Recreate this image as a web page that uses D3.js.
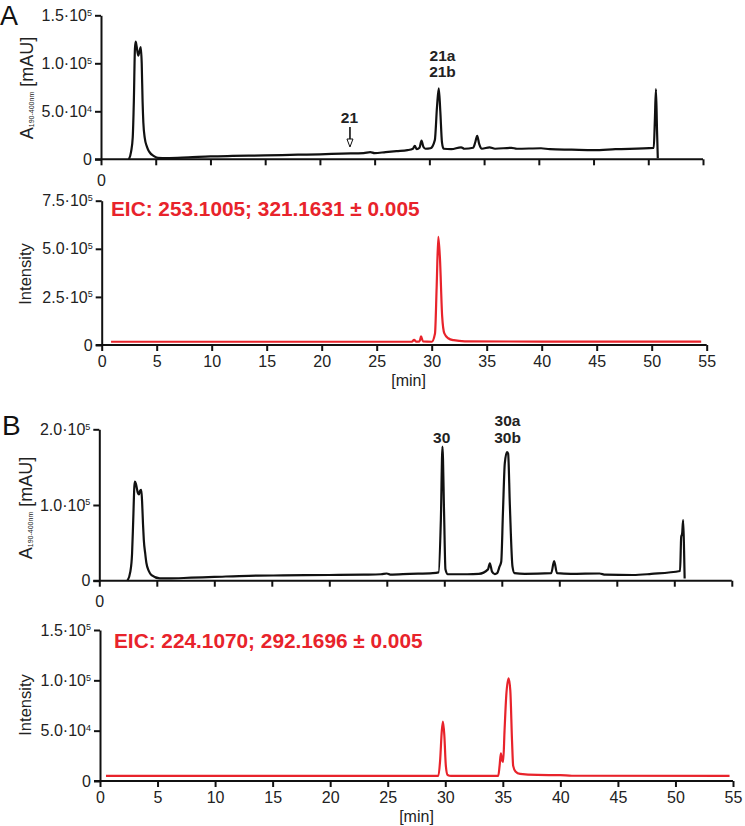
<!DOCTYPE html>
<html><head><meta charset="utf-8">
<script src="https://cdn.jsdelivr.net/npm/d3@7"></script>
<style>
body{margin:0;background:#fff;}
text{font-family:"Liberation Sans",Arial,Helvetica,sans-serif;}
</style></head>
<body><svg id="c" width="745" height="826"></svg>
<script>
// ---------- DATA ----------
const xTicks = [0,5,10,15,20,25,30,35,40,45,50,55];

// Panel A – UV trace (A190-400nm)
const uvA_t = [2.55,2.75,2.9,3.0,3.1,3.17,3.25,3.4,3.55,3.63,3.72,3.8,3.87,4.0,4.2,4.4,4.8,5.2,6,8,10,12,15,18,20,22,24,24.6,25,26,27,28,28.5,28.67,28.85,29.1,29.28,29.45,29.64,30.1,30.5,30.7,30.86,31.0,31.15,31.3,32,32.9,33.2,34.0,34.2,34.37,34.55,34.8,35.5,36,37.5,38,40.2,41,43,45,47,50.5,50.6,50.7,50.8,50.87];
const uvA_v = [0,8000,23000,60000,115000,122500,118000,108000,114000,117000,100000,60000,38000,22000,13000,8000,3500,1500,1200,2000,3000,3500,4000,4800,5200,6000,6500,7500,6500,7500,8500,9500,11000,14000,10500,12000,19500,13000,11000,11500,20000,55000,74000,50000,18000,11000,10500,12500,11000,12000,18000,24500,16000,11000,12500,11000,12000,11000,11500,10500,10000,9500,10500,12000,40000,73000,30000,1000];

// Panel A – EIC trace
const eicA_t = [0.85,10,20,27,28.2,28.4,28.6,28.9,29.03,29.2,30.0,30.3,30.45,30.6,30.75,30.95,31.15,31.5,32,33,40,54.5];
const eicA_v = [17000,17000,17000,17000,17000,27000,17000,19000,45000,19000,17000,60000,300000,562000,450000,150000,60000,35000,25000,19000,18000,18000];

// Panel B – UV trace
const uvB_t = [2.45,2.7,2.85,2.95,3.05,3.1,3.2,3.35,3.45,3.55,3.65,3.72,3.8,3.87,4.0,4.1,4.3,4.54,5.26,6,8,10,13,16,20,23,24.5,25,25.3,27,29.0,29.5,29.7,29.84,29.98,30.1,30.3,32,33.0,33.8,33.96,34.15,34.4,34.6,34.8,34.95,35.1,35.26,35.45,35.55,35.7,35.93,36.1,37,39.3,39.55,39.8,41,43.5,44,46.4,48,50.5,50.6,50.68,50.77,50.85,50.9];
const uvB_v = [0,12000,36000,80000,125000,131000,127000,116000,114000,119000,120000,105000,75000,54000,35000,23000,13000,7500,3200,3000,4000,5000,6500,7000,7500,8000,8500,9500,8000,9000,10000,11000,80000,177000,90000,15000,8500,8500,9000,15000,23000,12000,8800,10000,18500,25000,90000,155000,170000,168000,100000,18500,10000,9000,10000,26000,10000,9000,9500,8000,7500,9000,12800,58000,62000,80000,40000,3000];

// Panel B – EIC trace
const eicB_t = [0.52,29.4,29.55,29.7,29.8,29.92,30.05,30.2,30.5,34.6,34.72,34.83,34.95,35.03,35.15,35.3,35.5,35.65,35.8,35.9,36.1,36.5,38,40,41,54.7];
const eicB_v = [5000,5000,20000,50000,59000,45000,15000,6000,5000,5000,15000,27500,20000,19000,50000,85000,102000,90000,40000,15000,9500,7000,6000,5800,5200,5000];

// y tick values and labels (mantissa, exponent)
const yTicksAtop = [0,50000,100000,150000];
const yLabelsAtop = [["0",""],["5.0·10","4"],["1.0·10","5"],["1.5·10","5"]];
const yTicksAbot = [0,250000,500000,750000];
const yLabelsAbot = [["0",""],["2.5·10","5"],["5.0·10","5"],["7.5·10","5"]];
const yTicksBtop = [0,100000,200000];
const yLabelsBtop = [["0",""],["1.0·10","5"],["2.0·10","5"]];
const yTicksBbot = [0,50000,100000,150000];
const yLabelsBbot = [["0",""],["5.0·10","4"],["1.0·10","5"],["1.5·10","5"]];

const eicTextA = "EIC: 253.1005; 321.1631 ± 0.005";
const eicTextB = "EIC: 224.1070; 292.1696 ± 0.005";
const RED = "#e8232b";

// ---------- DRAW ----------
const svg = d3.select("#c");

function yLabel(g, parts){
  g.each(function(d,i){
    const t = d3.select(this).text(null);
    t.append("tspan").text(parts[i][0]);
    if(parts[i][1]) t.append("tspan").attr("font-size","9px").attr("dy","-0.6em").text(parts[i][1]);
  });
}

function panel(o){
  const x = d3.scaleLinear().domain([0,55]).range([o.x0,o.x1]);
  const y = d3.scaleLinear().domain([0,o.ymax]).range([o.y0,o.y1]);
  const g = svg.append("g");
  const xa = g.append("g").attr("transform",`translate(0,${o.y0})`)
    .call(d3.axisBottom(x).tickValues(xTicks).tickSize(6).tickSizeOuter(0)
      .tickPadding(o.showX?5:9)
      .tickFormat(d => (o.showX || d===0) ? String(d) : ""));
  const ya = g.append("g").attr("transform",`translate(${o.x0},0)`)
    .call(d3.axisLeft(y).tickValues(o.yt).tickSize(6).tickSizeOuter(0).tickPadding(3));
  [xa,ya].forEach(a=>{
    a.select(".domain").attr("stroke","#111").attr("stroke-width",2);
    a.selectAll(".tick line").attr("stroke","#111").attr("stroke-width",2);
    a.selectAll(".tick text").attr("font-size","16px").attr("fill","#222");
  });
  xa.select(".domain").attr("d",`M${o.x0-6},0H${o.x1}`);
  ya.selectAll(".tick text").call(yLabel,o.yl);
  const line = d3.line().x(d=>x(d[0])).y(d=>y(d[1])).curve(d3.curveMonotoneX);
  g.append("path").datum(d3.zip(o.t,o.v)).attr("d",line)
    .attr("fill","none").attr("stroke",o.color).attr("stroke-width",2.2).attr("stroke-linejoin","round");
  return {x,y,g};
}

const pAt = panel({x0:101,x1:703,y0:159.3,y1:15.3,ymax:150000,yt:yTicksAtop,yl:yLabelsAtop,t:uvA_t,v:uvA_v,color:"#111",showX:false});
const pAb = panel({x0:101.7,x1:706.7,y0:345,y1:200.7,ymax:750000,yt:yTicksAbot,yl:yLabelsAbot,t:eicA_t,v:eicA_v,color:RED,showX:true});
const pBt = panel({x0:99.3,x1:731.8,y0:580.7,y1:429.3,ymax:200000,yt:yTicksBtop,yl:yLabelsBtop,t:uvB_t,v:uvB_v,color:"#111",showX:false});
const pBb = panel({x0:100,x1:733,y0:781,y1:630,ymax:150000,yt:yTicksBbot,yl:yLabelsBbot,t:eicB_t,v:eicB_v,color:RED,showX:true});

svg.append("text").attr("x",pAb.x(27.9)).attr("y",386).attr("text-anchor","middle").attr("font-size","16px").attr("fill","#222").text("[min]");
svg.append("text").attr("x",pBb.x(27.5)).attr("y",822).attr("text-anchor","middle").attr("font-size","16px").attr("fill","#222").text("[min]");

svg.append("text").attr("x",0).attr("y",25).attr("font-size","27px").attr("fill","#111").text("A");
svg.append("text").attr("x",2).attr("y",435).attr("font-size","28px").attr("fill","#111").text("B");

function uvTitle(cx,cy){
  const t = svg.append("text").attr("transform",`translate(${cx},${cy}) rotate(-90)`)
    .attr("text-anchor","middle").attr("font-size","18px").attr("fill","#222");
  t.append("tspan").text("A");
  t.append("tspan").attr("font-size","7px").attr("dy","1px").text("190-400nm");
  t.append("tspan").attr("dy","-1px").text(" [mAU]");
}
uvTitle(33,88);
uvTitle(32,508);
function intTitle(cx,cy){
  svg.append("text").attr("transform",`translate(${cx},${cy}) rotate(-90)`)
    .attr("text-anchor","middle").attr("font-size","16.5px").attr("fill","#222").text("Intensity");
}
intTitle(31,274);
intTitle(31,705);

svg.append("text").attr("x",111).attr("y",216).attr("font-size","20.8px").attr("font-weight","bold").attr("fill",RED).text(eicTextA);
svg.append("text").attr("x",114).attr("y",648).attr("font-size","20.8px").attr("font-weight","bold").attr("fill",RED).text(eicTextB);

function lab(p,t,yy,s){
  svg.append("text").attr("x",p.x(t)).attr("y",yy).attr("text-anchor","middle")
    .attr("font-size","15.5px").attr("font-weight","bold").attr("fill","#222").text(s);
}
lab(pAt,31.2,61,"21a");
lab(pAt,31.2,77,"21b");
lab(pAt,22.7,123,"21");
lab(pBt,29.77,443,"30");
lab(pBt,35.5,426,"30a");
lab(pBt,35.5,443,"30b");
const ax = pAt.x(22.7)+0.5;
svg.append("line").attr("x1",ax).attr("x2",ax).attr("y1",127).attr("y2",139).attr("stroke","#111").attr("stroke-width",1.6);
svg.append("path").attr("d",`M${ax-3},139L${ax+3},139L${ax},147Z`).attr("fill","#fff").attr("stroke","#111").attr("stroke-width",1);
</script></body></html>
